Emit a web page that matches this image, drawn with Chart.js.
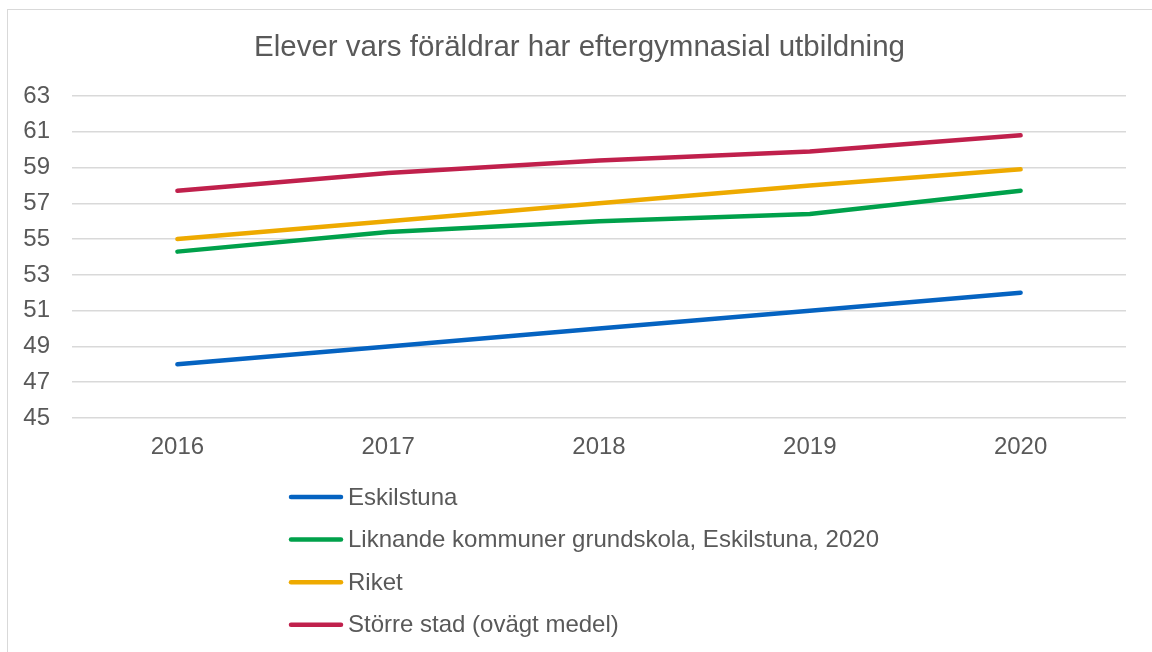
<!DOCTYPE html>
<html>
<head>
<meta charset="utf-8">
<script src="https://cdn.jsdelivr.net/npm/chart.js@4.4.0/dist/chart.umd.min.js"></script>
<style>
  html, body { margin: 0; padding: 0; background: #fff; }
  #wrap { position: relative; width: 1152px; height: 652px; overflow: hidden; }
  #frame { position: absolute; left: 7px; top: 9px; width: 1160px; height: 700px; border: 1px solid #d9d9d9; box-sizing: border-box; }
  canvas { position: absolute; left: 0; top: 0; }
</style>
</head>
<body>
<div id="wrap">
  <div id="frame"></div>
  <canvas id="chart" width="1152" height="652"></canvas>
</div>
<script>
const years = ['2016', '2017', '2018', '2019', '2020'];
const eskilstuna = [48.0, 49.0, 50.0, 51.0, 52.0];
const liknande = [54.3, 55.4, 56.0, 56.4, 57.7];
const riket = [55.0, 56.0, 57.0, 58.0, 58.9];
const storreStad = [57.7, 58.7, 59.4, 59.9, 60.8];

const chartTitle = 'Elever vars föräldrar har eftergymnasial utbildning';
const textColor = '#595959';
const fontFamily = '"Liberation Sans", Arial, sans-serif';

// title centred over the whole frame + legend as a vertical list under the plot
const excelLook = {
    id: 'excelLook',
    afterDraw(chart) {
        const ctx = chart.ctx;
        ctx.save();
        ctx.fillStyle = textColor;
        ctx.textBaseline = 'middle';
        ctx.textAlign = 'center';
        ctx.font = '29.5px ' + fontFamily;
        ctx.fillText(chartTitle, 579.5, 48);

        ctx.font = '24px ' + fontFamily;
        ctx.textAlign = 'left';
        chart.data.datasets.forEach((ds, i) => {
            const y = 497 + i * 42.6;
            ctx.strokeStyle = ds.borderColor;
            ctx.lineWidth = 4.5;
            ctx.lineCap = 'round';
            ctx.beginPath();
            ctx.moveTo(291, y);
            ctx.lineTo(341, y);
            ctx.stroke();
            ctx.fillText(ds.label, 348, y + 1);
        });
        ctx.restore();
    }
};

const ctx1 = document.getElementById('chart');
const chart1 = new Chart(ctx1, {
    type: 'line',
    data: {
        labels: years,
        datasets: [{
            label: 'Eskilstuna',
            data: eskilstuna,
            borderColor: '#0563c1',
        },
        {
            label: 'Liknande kommuner grundskola, Eskilstuna, 2020',
            data: liknande,
            borderColor: '#00a14b',
        },
        {
            label: 'Riket',
            data: riket,
            borderColor: '#eeaa00',
        },
        {
            label: 'Större stad (ovägt medel)',
            data: storreStad,
            borderColor: '#c0204c',
        }],
    },
    options: {
        responsive: false,
        animation: false,
        layout: {
            padding: { left: 0, right: 26, top: 96, bottom: 194 }
        },
        elements: {
            line: { borderWidth: 4.5, borderCapStyle: 'round', borderJoinStyle: 'round', tension: 0 },
            point: { radius: 0 }
        },
        plugins: {
            legend: { display: false },
            tooltip: { enabled: false },
            title: { display: false },
        },
        scales: {
            x: {
                offset: true,
                grid: { display: false },
                border: { display: false },
                ticks: {
                    color: textColor,
                    padding: 7,
                    font: { family: fontFamily, size: 24 }
                },
                afterFit(scale) { scale.height = 40; }
            },
            y: {
                min: 45,
                max: 63,
                grid: { color: '#d9d9d9', lineWidth: 1.5, drawTicks: false },
                border: { display: false },
                ticks: {
                    stepSize: 2,
                    color: textColor,
                    padding: 22,
                    font: { family: fontFamily, size: 24 }
                },
                afterFit(scale) { scale.width = 72; }
            }
        }
    },
    plugins: [excelLook]
});
</script>
</body>
</html>
